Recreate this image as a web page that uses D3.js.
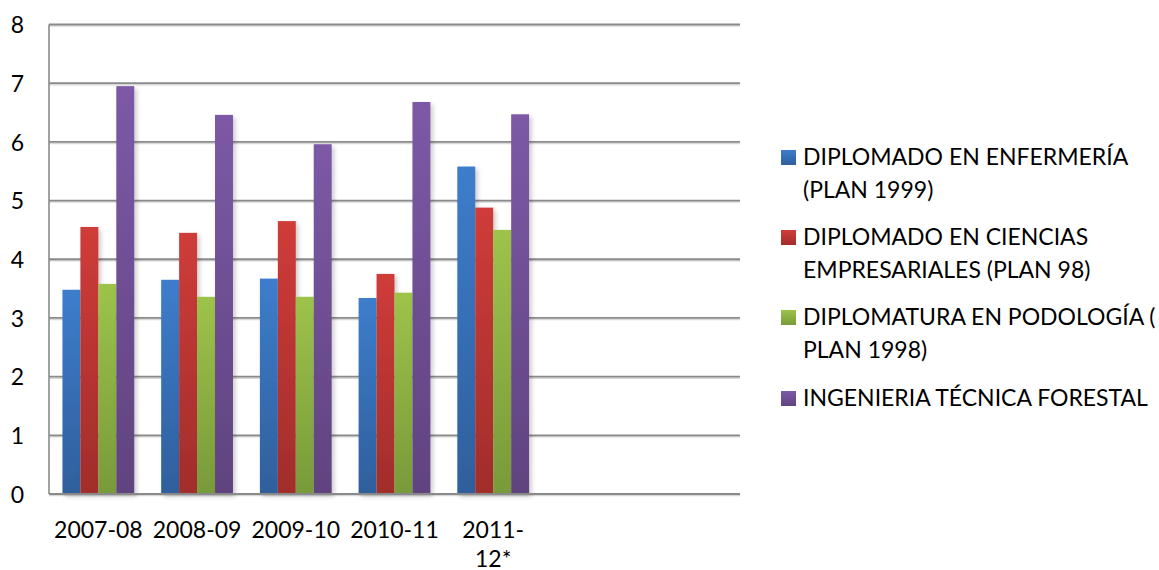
<!DOCTYPE html>
<html>
<head>
<meta charset="utf-8">
<script src="https://cdn.jsdelivr.net/npm/d3@7"></script>
<style>
  html, body { margin: 0; padding: 0; background: #fff; }
  svg { display: block; font-family: Lato, "Open Sans", sans-serif; }
</style>
</head>
<body>
<svg id="chart" width="1159" height="570"></svg>
<script>
const categories = ["2007-08", "2008-09", "2009-10", "2010-11", "2011-12*"];
const tickLabels = [["2007-08"], ["2008-09"], ["2009-10"], ["2010-11"], ["2011-", "12*"]];
const slotCount = 7;
const seriesNames = [
  ["DIPLOMADO EN ENFERMERÍA", "(PLAN 1999)"],
  ["DIPLOMADO EN CIENCIAS", "EMPRESARIALES (PLAN 98)"],
  ["DIPLOMATURA EN PODOLOGÍA (", "PLAN 1998)"],
  ["INGENIERIA TÉCNICA FORESTAL"]
];
const enfermeria = [3.48, 3.65, 3.67, 3.34, 5.58];
const empresariales = [4.55, 4.45, 4.65, 3.75, 4.88];
const podologia = [3.58, 3.36, 3.36, 3.43, 4.50];
const forestal = [6.95, 6.46, 5.96, 6.68, 6.47];
const yTicks = [0, 1, 2, 3, 4, 5, 6, 7, 8];

const seriesValues = [enfermeria, empresariales, podologia, forestal];
const colorsTop = ["#3d7dcc", "#cf3c39", "#9dc34a", "#7c59a6"];
const colorsBottom = ["#2f5f9c", "#a12d2b", "#789a3a", "#60437f"];

const svg = d3.select("#chart");
const mLeft = 49, mRight = 740, mTop = 24.5, mBottom = 494;

const x = d3.scaleBand().domain(d3.range(slotCount)).range([mLeft, mRight])
  .paddingInner(1.5 / 5.5).paddingOuter(0.75 / 5.5);
const x1 = d3.scaleBand().domain(d3.range(seriesValues.length)).range([0, x.bandwidth()]);
const y = d3.scaleLinear().domain([0, 8]).range([mBottom, mTop]);

const defs = svg.append("defs");
seriesValues.forEach((s, i) => {
  const g = defs.append("linearGradient").attr("id", "grad" + i)
    .attr("x1", 0).attr("y1", 0).attr("x2", 0).attr("y2", 1);
  g.append("stop").attr("offset", "0%").attr("stop-color", colorsTop[i]);
  g.append("stop").attr("offset", "100%").attr("stop-color", colorsBottom[i]);
});
const shadow = defs.append("filter").attr("id", "shadow")
  .attr("x", "-20%").attr("y", "-5%").attr("width", "160%").attr("height", "120%");
shadow.append("feDropShadow").attr("dx", 2.5).attr("dy", 2.5).attr("stdDeviation", 2.2)
  .attr("flood-color", "#000").attr("flood-opacity", 0.2);

// gridlines (with light shadow line beneath)
svg.append("g").selectAll("line").data(yTicks).join("line")
  .attr("x1", mLeft).attr("x2", mRight)
  .attr("y1", d => y(d) + 1.5).attr("y2", d => y(d) + 1.5)
  .attr("stroke", "#d8d8d8").attr("stroke-width", 1.5);
svg.append("g").selectAll("line").data(yTicks).join("line")
  .attr("x1", mLeft).attr("x2", mRight)
  .attr("y1", d => y(d)).attr("y2", d => y(d))
  .attr("stroke", "#8a8a8a").attr("stroke-width", 1.8);

// y axis line
svg.append("line").attr("x1", mLeft).attr("x2", mLeft).attr("y1", mTop).attr("y2", mBottom)
  .attr("stroke", "#8a8a8a").attr("stroke-width", 1.6);

// y axis labels
const yAxis = d3.axisLeft(y).tickValues(yTicks).tickSize(0).tickPadding(25).tickFormat(d3.format("d"));
const yg = svg.append("g").attr("transform", `translate(${mLeft},0)`).call(yAxis);
yg.select(".domain").remove();
yg.selectAll("text").attr("font-size", 23).attr("fill", "#000")
  .attr("font-family", "Lato, sans-serif").attr("dy", "0.36em");

// bars
const groups = svg.append("g").selectAll("g").data(categories).join("g")
  .attr("transform", (d, i) => `translate(${x(i)},0)`);
groups.selectAll("rect").data((d, i) => seriesValues.map((s, k) => ({k, v: s[i]}))).join("rect")
  .attr("x", d => x1(d.k))
  .attr("width", x1.bandwidth())
  .attr("y", d => y(d.v))
  .attr("height", d => y(0) - y(d.v))
  .attr("fill", d => `url(#grad${d.k})`)
  .attr("filter", "url(#shadow)");

// baseline over bar shadows
svg.append("line").attr("x1", mLeft).attr("x2", mRight).attr("y1", y(0)).attr("y2", y(0))
  .attr("stroke", "#8a8a8a").attr("stroke-width", 1.8);

// x axis labels
const xAxis = d3.axisBottom(x).tickSize(0).tickFormat(() => "");
const xg = svg.append("g").attr("transform", `translate(0,${mBottom})`).call(xAxis);
xg.select(".domain").remove();
xg.selectAll(".tick").each(function(d) {
  const lines = tickLabels[d] || [];
  const t = d3.select(this).select("text").text(null)
    .attr("y", 0).attr("dy", null)
    .attr("font-size", 23).attr("fill", "#000").attr("font-family", "Lato, sans-serif");
  lines.forEach((ln, j) => {
    t.append("tspan").attr("x", 0).attr("y", 44 + j * 28.5).text(ln);
  });
});

// legend
const legend = svg.append("g").attr("transform", "translate(781,0)");
const itemBase = [165, 245, 325, 406];
seriesNames.forEach((lines, i) => {
  const g = legend.append("g");
  g.append("rect").attr("x", 0).attr("y", itemBase[i] - 15).attr("width", 15).attr("height", 15)
    .attr("fill", `url(#grad${i})`);
  const t = g.append("text").attr("font-size", 23).attr("fill", "#000");
  lines.forEach((ln, j) => {
    t.append("tspan").attr("x", 22).attr("y", itemBase[i] + j * 32.5).text(ln);
  });
});
</script>
</body>
</html>
